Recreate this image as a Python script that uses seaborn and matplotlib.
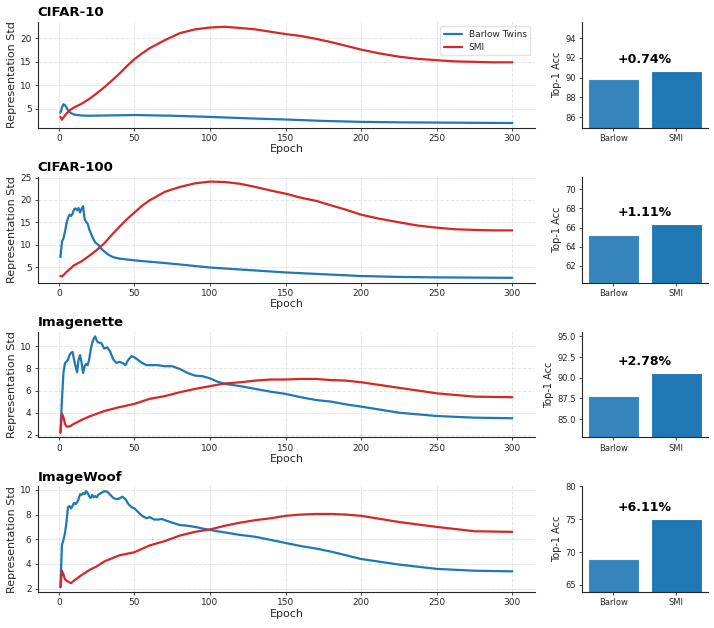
import matplotlib
matplotlib.use("Agg")
import matplotlib.pyplot as plt
import seaborn as sns

sns.set_style("ticks")

# Dataset names and top-1 accuracies
datasets = ["CIFAR-10", "CIFAR-100", "Imagenette", "ImageWoof"]
methods = ["Barlow", "SMI"]
acc_barlow = [89.90, 65.22, 87.80, 68.90]
acc_smi = [90.64, 66.33, 90.58, 75.01]

# Representation std per epoch
c10_barlow_ep = [1, 2, 3, 4, 5, 6, 8, 10, 15, 20, 30, 50, 75, 100, 125, 150, 175, 200, 225, 250, 275, 300]
c10_barlow_std = [4.2, 5.3, 6.0, 5.8, 5.3, 4.7, 4.1, 3.8, 3.6, 3.55, 3.6, 3.7, 3.55, 3.3, 3.0, 2.75, 2.45, 2.25,
                  2.15, 2.1, 2.05, 2.0]
c10_smi_ep = [1, 2, 3, 5, 7, 10, 15, 20, 25, 30, 35, 40, 45, 50, 55, 60, 70, 80, 90, 100, 110, 120, 130, 140, 150,
              160, 170, 180, 190, 200, 212, 225, 237, 250, 262, 275, 287, 300]
c10_smi_std = [3.3, 2.7, 3.2, 4.0, 4.7, 5.3, 6.1, 7.1, 8.3, 9.6, 11.0, 12.5, 14.1, 15.6, 16.8, 17.9, 19.6, 21.1,
               21.9, 22.3, 22.45, 22.2, 21.9, 21.4, 20.9, 20.5, 19.9, 19.2, 18.4, 17.6, 16.8, 16.1, 15.65, 15.35,
               15.1, 15.0, 14.9, 14.9]

c100_barlow_ep = [1, 2, 3, 4, 5, 6, 7, 8, 9, 10, 11, 12, 13, 14, 15, 16, 17, 18, 19, 20, 22, 24, 26, 28, 30, 33,
                  36, 40, 50, 75, 100, 125, 150, 175, 200, 225, 250, 275, 300]
c100_barlow_std = [7.2, 10.7, 11.4, 12.9, 14.7, 16.0, 16.7, 16.4, 16.9, 17.9, 18.1, 17.7, 18.2, 17.2, 18.0, 18.6,
                   15.7, 15.1, 14.7, 13.5, 11.8, 10.5, 10.0, 9.1, 8.5, 7.7, 7.2, 6.9, 6.5, 5.75, 4.9, 4.35, 3.8,
                   3.4, 3.0, 2.8, 2.7, 2.65, 2.6]
c100_smi_ep = [1, 2, 3, 5, 10, 15, 20, 25, 30, 35, 40, 45, 50, 55, 60, 70, 80, 90, 100, 110, 120, 130, 140, 150,
               160, 170, 180, 190, 200, 212, 225, 237, 250, 262, 275, 287, 300]
c100_smi_std = [3.0, 2.9, 3.2, 3.9, 5.4, 6.3, 7.5, 8.8, 10.3, 12.2, 14.0, 15.7, 17.2, 18.7, 19.9, 21.8, 22.9, 23.7,
                24.1, 24.0, 23.6, 22.9, 22.1, 21.4, 20.5, 19.8, 18.8, 17.8, 16.7, 15.8, 15.0, 14.3, 13.8, 13.45,
                13.3, 13.2, 13.2]

inet_barlow_ep = [1, 2, 3, 4, 5, 6, 7, 8, 9, 10, 11, 12, 13, 14, 15, 16, 17, 18, 19, 20, 21, 22, 23, 24, 25, 26,
                  28, 30, 32, 34, 36, 38, 40, 42, 44, 46, 48, 50, 52, 55, 58, 60, 65, 70, 75, 80, 85, 90, 95, 100,
                  105, 110, 120, 130, 140, 150, 160, 170, 180, 190, 200, 225, 250, 275, 300]
inet_barlow_std = [2.2, 5.2, 7.6, 8.5, 8.6, 8.8, 9.2, 9.4, 9.5, 8.8, 8.2, 7.65, 8.8, 9.2, 8.5, 7.6, 8.2, 8.4, 8.3,
                   8.8, 9.7, 10.3, 10.7, 10.9, 10.5, 10.35, 10.3, 9.8, 9.9, 9.5, 8.8, 8.5, 8.6, 8.5, 8.3, 8.8, 9.1,
                   9.0, 8.8, 8.5, 8.3, 8.3, 8.3, 8.2, 8.2, 7.95, 7.6, 7.35, 7.3, 7.1, 6.8, 6.6, 6.4, 6.15, 5.9, 5.7,
                   5.4, 5.15, 5.0, 4.75, 4.55, 4.0, 3.7, 3.55, 3.5]
inet_smi_ep = [1, 2, 3, 4, 5, 7, 10, 15, 20, 25, 30, 40, 50, 60, 70, 80, 90, 100, 110, 120, 130, 140, 150, 160,
               170, 180, 190, 200, 225, 250, 275, 300]
inet_smi_std = [2.2, 3.9, 3.6, 3.0, 2.75, 2.75, 3.0, 3.35, 3.65, 3.9, 4.15, 4.5, 4.8, 5.25, 5.5, 5.85, 6.15, 6.4,
                6.65, 6.75, 6.9, 7.0, 7.0, 7.05, 7.05, 6.95, 6.9, 6.75, 6.25, 5.75, 5.45, 5.4]

woof_barlow_ep = [1, 2, 3, 4, 5, 6, 7, 8, 9, 10, 11, 12, 13, 14, 15, 16, 17, 18, 19, 20, 21, 22, 23, 24, 25, 26,
                  28, 30, 32, 34, 36, 38, 40, 42, 44, 46, 48, 50, 52, 55, 58, 60, 63, 66, 68, 70, 75, 80, 85, 90,
                  100, 110, 120, 130, 140, 150, 160, 170, 180, 190, 200, 225, 250, 275, 300]
woof_barlow_std = [2.1, 5.55, 5.95, 6.5, 7.4, 8.6, 8.7, 8.5, 8.7, 8.95, 8.85, 9.0, 9.25, 9.65, 9.6, 9.75, 9.65, 9.9,
                   9.75, 9.5, 9.35, 9.6, 9.4, 9.5, 9.4, 9.6, 9.75, 9.9, 9.85, 9.6, 9.35, 9.25, 9.3, 9.45, 9.25,
                   8.85, 8.6, 8.5, 8.25, 7.9, 7.7, 7.8, 7.6, 7.6, 7.65, 7.55, 7.35, 7.15, 7.1, 7.0, 6.75, 6.55,
                   6.35, 6.2, 5.95, 5.7, 5.45, 5.25, 5.0, 4.7, 4.4, 3.95, 3.6, 3.45, 3.4]
woof_smi_ep = [1, 2, 3, 4, 5, 7, 8, 10, 15, 20, 25, 30, 40, 50, 60, 70, 80, 90, 100, 110, 120, 130, 140, 150, 160,
               170, 180, 190, 200, 225, 250, 275, 300]
woof_smi_std = [2.15, 3.45, 3.15, 2.75, 2.65, 2.5, 2.45, 2.65, 3.1, 3.5, 3.8, 4.2, 4.7, 4.95, 5.5, 5.85, 6.3, 6.6,
                6.8, 7.1, 7.35, 7.55, 7.7, 7.9, 8.0, 8.05, 8.05, 8.0, 7.9, 7.4, 7.0, 6.65, 6.6]

curves = [
    (c10_barlow_ep, c10_barlow_std, c10_smi_ep, c10_smi_std),
    (c100_barlow_ep, c100_barlow_std, c100_smi_ep, c100_smi_std),
    (inet_barlow_ep, inet_barlow_std, inet_smi_ep, inet_smi_std),
    (woof_barlow_ep, woof_barlow_std, woof_smi_ep, woof_smi_std),
]

blue = "#1f77b4"
red = "#d62728"

fig = plt.figure(figsize=(7.14, 6.28), dpi=100)
gs = fig.add_gridspec(4, 2, width_ratios=[497, 126], left=0.053, right=0.9916,
                      top=0.965, bottom=0.057, wspace=0.151, hspace=0.462)

for i, name in enumerate(datasets):
    b_ep, b_std, s_ep, s_std = curves[i]

    # left: std curves
    ax = fig.add_subplot(gs[i, 0])
    sns.lineplot(x=b_ep, y=b_std, ax=ax, color=blue, lw=1.6, label="Barlow Twins" if i == 0 else None)
    sns.lineplot(x=s_ep, y=s_std, ax=ax, color=red, lw=1.6, label="SMI" if i == 0 else None)
    ax.grid(True, linestyle="--", color="#cccccc", alpha=0.5, lw=0.7)
    ax.set_title(name, loc="left", fontsize=9.5, fontweight="bold", pad=4, color="black")
    ax.set_xlabel("Epoch", fontsize=8, labelpad=1)
    ax.set_ylabel("Representation Std", fontsize=8, labelpad=2)
    ax.set_xticks([0, 50, 100, 150, 200, 250, 300])
    ax.tick_params(labelsize=6.5, length=2.5, width=0.6, pad=2)
    if i == 0:
        ax.legend(loc="upper right", fontsize=6.5, frameon=True, edgecolor="#dddddd",
                  handlelength=2.0, borderpad=0.4, labelspacing=0.4)
    sns.despine(ax=ax)

    # right: top-1 accuracy bars
    bx = fig.add_subplot(gs[i, 1])
    vals = [acc_barlow[i], acc_smi[i]]
    sns.barplot(x=methods, y=vals, hue=methods, palette=[blue, blue], legend=False, saturation=1,
                ax=bx, width=0.8, edgecolor="white", linewidth=0.8)
    bx.patches[0].set_alpha(0.9)
    lo = acc_barlow[i] - 5
    hi = acc_smi[i] + 5
    bx.set_ylim(lo, hi)
    gain = acc_smi[i] - acc_barlow[i]
    bx.text(0.5, acc_smi[i] + 0.05 * (hi - lo), f"+{gain:.2f}%", ha="center", va="bottom",
            fontsize=9, fontweight="bold", color="black")
    bx.set_ylabel("Top-1 Acc", fontsize=7, labelpad=2)
    bx.set_xlabel("")
    bx.tick_params(labelsize=6, length=2.5, width=0.6, pad=2)
    sns.despine(ax=bx)

fig.savefig("out.png", dpi=100)
